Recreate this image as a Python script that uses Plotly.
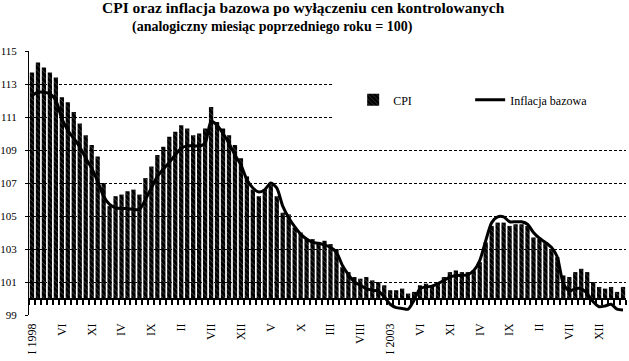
import plotly.graph_objects as go

years = list(range(1998, 2007))
categories = [f"{y}-{m:02d}" for y in years for m in range(1, 13)][:100]

cpi = [
    113.7, 114.3, 114.0, 113.7, 113.4, 112.2, 111.9, 111.3, 110.6, 109.9, 109.3, 108.6,
    107.0, 105.6, 106.2, 106.3, 106.5, 106.6, 106.3, 107.3, 108.0, 108.7, 109.2, 109.8,
    110.1, 110.5, 110.3, 109.9, 110.0, 110.3, 111.6, 110.7, 110.3, 109.9, 109.3, 108.5,
    107.4, 106.6, 106.2, 106.6, 106.9, 106.2, 105.2, 105.1, 104.3, 104.0, 103.6, 103.6,
    103.4, 103.5, 103.3, 103.0, 101.9, 101.6, 101.3, 101.2, 101.3, 101.1, 101.0, 100.8,
    100.5, 100.5, 100.6, 100.3, 100.4, 100.8, 100.9, 100.7, 100.9, 101.3, 101.6, 101.7,
    101.6, 101.6, 101.7, 102.2, 103.4, 104.4, 104.6, 104.6, 104.4, 104.5, 104.5, 104.4,
    103.7, 103.6, 103.4, 103.0, 102.5, 101.4, 101.3, 101.6, 101.8, 101.6, 101.0, 100.7,
    100.6, 100.7, 100.4, 100.7,
]

core = [
    112.3, 112.5, 112.5, 112.4, 112.0, 110.9, 110.2, 109.7, 109.2, 108.5, 107.9, 107.1,
    106.2, 105.7, 105.5, 105.45, 105.45, 105.4, 105.4, 106.0, 106.7, 107.4, 107.85, 108.25,
    108.7, 109.1, 109.25, 109.25, 109.25, 109.4, 110.75, 110.5, 110.0, 109.4, 108.7, 108.1,
    107.2, 106.7, 106.45, 106.6, 107.0, 106.7, 105.6, 104.9, 104.35, 103.9, 103.6, 103.4,
    103.35, 103.25, 103.1, 102.8, 102.0, 101.45, 101.0, 100.8, 100.6, 100.5, 100.45, 100.1,
    99.65, 99.45, 99.4, 99.35, 99.9, 100.6, 100.7, 100.75, 100.9, 101.1, 101.3, 101.4,
    101.4, 101.45, 101.7, 102.3, 103.5, 104.6, 104.95, 104.95, 104.65, 104.65, 104.65, 104.5,
    104.0, 103.65, 103.4, 103.1, 102.5, 100.9, 100.45, 100.6, 100.6, 100.3, 99.8, 99.5,
    99.55, 99.65, 99.35, 99.3,
]

tick_labels = ["I 1998", "VI", "XI", "IV", "IX", "II", "VII", "XII", "V", "X",
               "III", "VIII", "I 2003", "VI", "XI", "IV", "IX", "II", "VII", "XII"]
tick_positions = categories[::5]

BASE = 100
SERIF = "Liberation Serif"

fig = go.Figure()
fig.add_trace(go.Bar(
    x=categories, y=[v - BASE for v in cpi], base=BASE, name="CPI",
    marker=dict(color="black", line=dict(width=0),
                pattern=dict(shape="\\", fgcolor="white", bgcolor="black",
                             size=4, solidity=0.13)),
    customdata=cpi, hovertemplate="%{x}: %{customdata}<extra>CPI</extra>",
    xaxis="x", yaxis="y",
))
fig.add_trace(go.Scatter(
    x=categories, y=core, name="Inflacja bazowa", mode="lines",
    line=dict(color="black", width=3, shape="spline", smoothing=0.7),
    xaxis="x2", yaxis="y",
))

fig.update_layout(
    width=629, height=361,
    margin=dict(l=29, r=3, t=51, b=46),
    paper_bgcolor="white", plot_bgcolor="white",
    bargap=0.28,
    font=dict(family=SERIF, color="black", size=12),
    showlegend=True,
    legend=dict(orientation="h", x=0.543, y=0.815, xanchor="left", yanchor="middle",
                bgcolor="white", borderwidth=0, font=dict(family=SERIF, size=12),
                entrywidth=72, entrywidthmode="pixels"),
    xaxis=dict(
        type="category", categoryorder="array", categoryarray=categories,
        range=[-0.5, len(categories) - 0.5],
        tickmode="array", tickvals=tick_positions, ticktext=tick_labels,
        tickangle=-90, ticks="", showline=False, showgrid=False, zeroline=False,
        tickfont=dict(family=SERIF, size=12), automargin=False,
        ticklabelstandoff=5,
    ),
    xaxis2=dict(
        type="category", categoryorder="array", categoryarray=categories,
        matches="x", overlaying="x", anchor="free", position=(BASE - 99) / 16,
        tickmode="linear", tick0=0, dtick=1, tickson="boundaries",
        ticks="outside", ticklen=5, tickwidth=2, tickcolor="black",
        showticklabels=False, showline=True, linecolor="black", linewidth=2,
        showgrid=False, zeroline=False,
    ),
    yaxis=dict(
        range=[99, 115], tickmode="linear", tick0=99, dtick=2,
        showgrid=True, gridcolor="black", griddash="3px,2px", gridwidth=1,
        showline=True, linecolor="black", linewidth=1,
        ticks="outside", ticklen=3, tickcolor="black",
        zeroline=False, tickfont=dict(family=SERIF, size=11), automargin=False,
        ticklabelstandoff=6,
    ),
    shapes=[
        dict(type="rect", xref="paper", yref="paper", x0=0.508, x1=1.0, y0=0.745, y1=0.89,
             fillcolor="white", line=dict(width=0), layer="above"),
    ],
    annotations=[
        dict(text="<b>CPI oraz inflacja bazowa po wyłączeniu cen kontrolowanych</b>",
             xref="paper", yref="paper", x=0.4606, y=1.165, xanchor="center", yanchor="middle",
             showarrow=False, font=dict(family=SERIF, size=15.5, color="black")),
        dict(text="<b>(analogiczny miesiąc poprzedniego roku = 100)</b>",
             xref="paper", yref="paper", x=0.4087, y=1.09, xanchor="center", yanchor="middle",
             showarrow=False, font=dict(family=SERIF, size=14, color="black")),
    ],
)

fig.write_html("out.html")
